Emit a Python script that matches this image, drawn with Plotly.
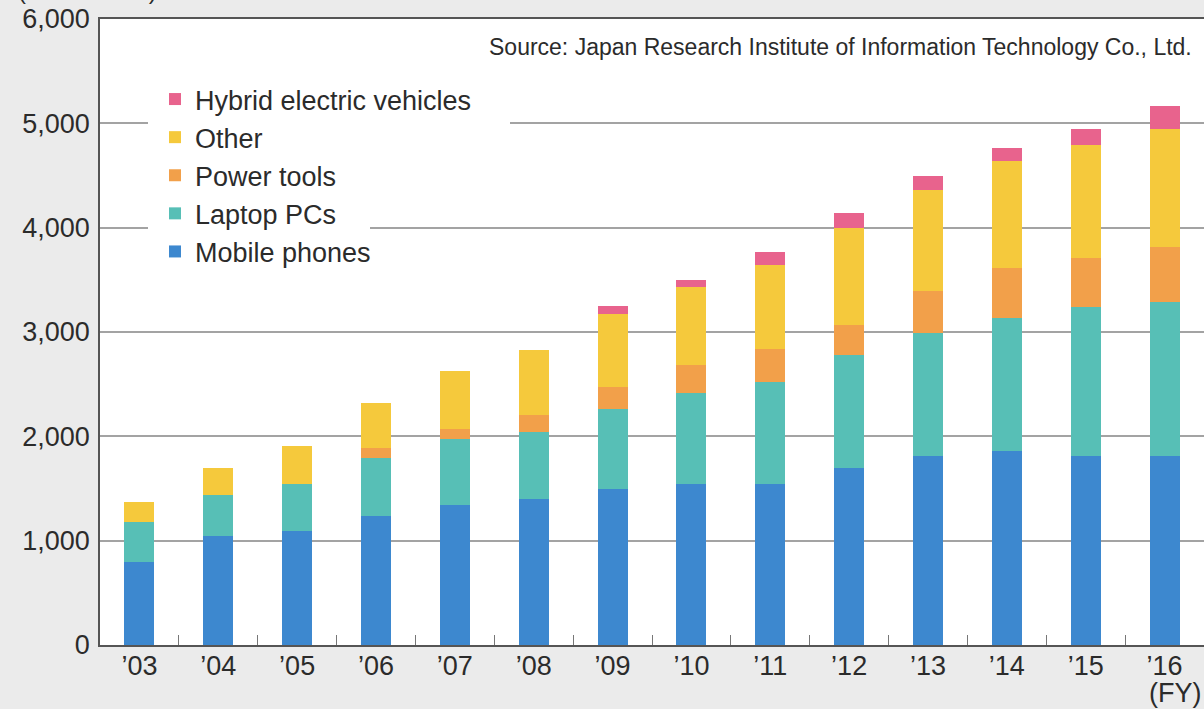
import plotly.graph_objects as go

# Fiscal years on the category axis
years = ["’03", "’04", "’05", "’06", "’07", "’08", "’09",
         "’10", "’11", "’12", "’13", "’14", "’15", "’16"]

# Shipments by application (million cells)
mobile_phones = [800, 1040, 1090, 1240, 1340, 1400, 1495,
                 1545, 1545, 1695, 1815, 1860, 1815, 1815]
laptop_pcs = [375, 395, 455, 550, 630, 640, 765,
              870, 980, 1085, 1175, 1275, 1420, 1475]
power_tools = [0, 0, 0, 95, 100, 165, 210,
               270, 310, 285, 400, 475, 470, 520]
other = [200, 260, 365, 435, 560, 625, 705,
         745, 805, 935, 975, 1025, 1085, 1140]
hybrid_vehicles = [0, 0, 0, 0, 0, 0, 75,
                   70, 130, 145, 130, 125, 160, 215]

# (name, values, colour, legend rank) - stacked bottom to top
series = [
    ("Mobile phones", mobile_phones, "#3d88cf", 5),
    ("Laptop PCs", laptop_pcs, "#57bfb6", 4),
    ("Power tools", power_tools, "#f2a04a", 3),
    ("Other", other, "#f5c93c", 2),
    ("Hybrid electric vehicles", hybrid_vehicles, "#e8638d", 1),
]

W, H = 1204, 709
ML, MR, MT, MB = 100, 0, 19, 64
PW, PH = W - ML - MR, H - MT - MB


def px_x(px):
    return (px - ML) / PW


def px_y(py):
    return (H - MB - py) / PH


FONT = "Liberation Sans, Arial, Helvetica, sans-serif"
TEXT = "#2b2b2b"

fig = go.Figure()
for name, vals, color, rank in series:
    fig.add_trace(go.Bar(
        x=years, y=vals, name=name, legendgroup=name, legendrank=rank,
        marker=dict(color=color, line=dict(width=0)),
    ))

# white patches behind each legend row, hiding the gridlines there
rows = [(100, 510), (139, 292), (177, 372), (215, 370), (253, 408)]
shapes = []
for cy, right in rows:
    shapes.append(dict(
        type="rect", xref="paper", yref="paper", layer="above",
        x0=px_x(148), x1=px_x(right), y0=px_y(cy + 25), y1=px_y(cy - 24),
        fillcolor="white", line=dict(width=0),
    ))

fig.update_layout(
    width=W, height=H,
    margin=dict(l=ML, r=MR, t=MT, b=MB),
    paper_bgcolor="#ebebeb",
    plot_bgcolor="white",
    barmode="stack",
    bargap=0.62,
    font=dict(family=FONT, color=TEXT),
    shapes=shapes,
    legend=dict(
        traceorder="grouped",
        tracegroupgap=0,
        x=px_x(155), xanchor="left",
        y=px_y(75), yanchor="top",
        bgcolor="rgba(0,0,0,0)",
        font=dict(size=27, family=FONT, color=TEXT),
        itemclick=False, itemdoubleclick=False,
    ),
    xaxis=dict(
        type="category",
        range=[-0.5, 13.5],
        showline=True, linecolor="#555555", linewidth=1.5, mirror=True,
        showgrid=False,
        ticks="inside", tickson="boundaries", ticklen=10,
        tickcolor="#777777", tickwidth=1,
        tickfont=dict(size=27, family=FONT, color=TEXT),
        ticklabelstandoff=-4,
    ),
    yaxis=dict(
        range=[0, 6000],
        dtick=1000,
        tickformat=",",
        showline=True, linecolor="#555555", linewidth=1.5,
        showgrid=True, gridcolor="#a3a3a3", gridwidth=1.5,
        zeroline=False,
        ticks="",
        tickfont=dict(size=27, family=FONT, color=TEXT),
        ticklabelstandoff=3,
    ),
    annotations=[
        dict(
            text="Source: Japan Research Institute of Information Technology Co., Ltd.",
            xref="paper", yref="paper", x=px_x(1194), y=px_y(47),
            xanchor="right", yanchor="middle", showarrow=False,
            font=dict(size=23, family=FONT, color=TEXT),
            bgcolor="white",
        ),
        dict(
            text="(FY)", xref="paper", yref="paper",
            x=px_x(1203), y=px_y(693), xanchor="right", yanchor="middle",
            showarrow=False, font=dict(size=27, family=FONT, color=TEXT),
        ),
        dict(
            text="(Million cells)", xref="paper", yref="paper",
            x=px_x(16), y=px_y(6), xanchor="left", yanchor="bottom",
            showarrow=False, font=dict(size=24, family=FONT, color=TEXT),
        ),
    ],
)

fig.write_html("out.html")
